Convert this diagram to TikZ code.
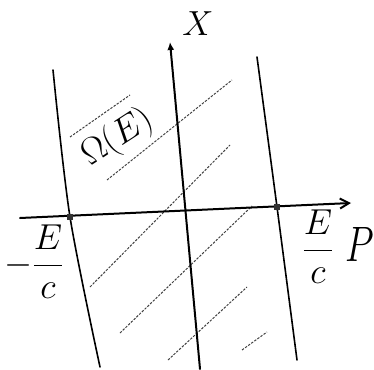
\documentclass[tikz,border=0pt]{standalone}
\usetikzlibrary{arrows.meta}
\begin{document}
\begin{tikzpicture}[x=1pt,y=-1pt,
  axis/.style={line width=2pt,line cap=round},
  bound/.style={line width=1.6pt,line cap=round},
  hatch/.style={line width=1pt,black!75,dash pattern=on 2.4pt off 1.4pt},
  dotmark/.style={fill=black!80,minimum size=6pt,inner sep=0pt,draw=none,rectangle},
  lbl/.style={inner sep=0pt,font=\Huge}]
\useasboundingbox (0,0) rectangle (374,369);
% boundary lines
\coordinate (lt) at (53,70); \coordinate (lm) at (70,217); \coordinate (lb) at (100,367);
\coordinate (rt) at (257,57); \coordinate (rm) at (277,207); \coordinate (rb) at (297,360);
\draw[bound] plot[smooth] coordinates {(lt) (lm) (lb)};
\draw[bound] plot[smooth] coordinates {(rt) (rm) (rb)};
% hatching
\coordinate (h1a) at (70,137); \coordinate (h1b) at (130,95);
\coordinate (h2a) at (107,180); \coordinate (h2b) at (232,80);
\coordinate (h3a) at (90,287); \coordinate (h3b) at (230,145);
\coordinate (h4a) at (120,333); \coordinate (h4b) at (252,206);
\coordinate (h5a) at (168,360); \coordinate (h5b) at (247,287);
\coordinate (h6a) at (242,350); \coordinate (h6b) at (267,332);
\foreach \i in {1,...,6} \draw[hatch] (h\i a) -- (h\i b);
% axes
\coordinate (pl) at (20,218); \coordinate (pr) at (351,203);
\coordinate (xb) at (200,369); \coordinate (xt) at (170,42);
\draw[axis,-{Straight Barb[length=9pt,width=10pt]}] (pl) -- (pr);
\draw[axis,-{Latex[length=8pt,width=7pt]}] (xb) -- (xt);
% intersection marks
\node[dotmark] (dl) at (lm) {};
\node[dotmark] (dr) at (rm) {};
% labels
\node[lbl] (X) at (198,24) {\scalebox{1.4}{$X$}};
\node[lbl] (P) at (360,244) {\scalebox{1.5}[2.0]{$P$}};
\node[lbl] (Ec) at (318,247) {\scalebox{1.45}{$\displaystyle\frac{E}{c}$}};
\node[lbl] (mEc) at (34,262) {\scalebox{1.45}{$\displaystyle-\frac{E}{c}$}};
\node[lbl,rotate=33] (Om) at (118,138) {\scalebox{1.45}{$\Omega(E)$}};
\end{tikzpicture}
\end{document}
